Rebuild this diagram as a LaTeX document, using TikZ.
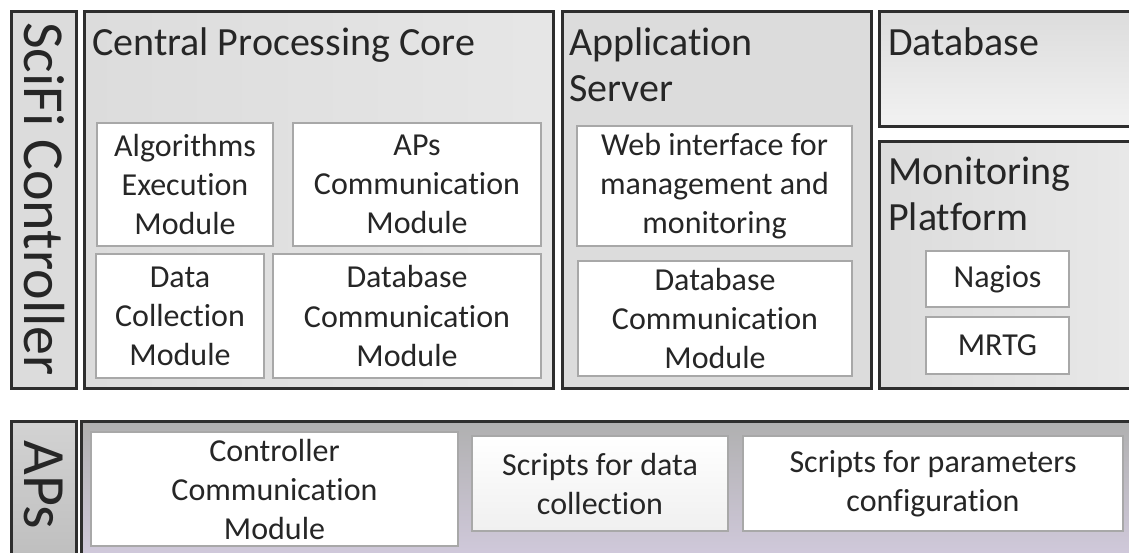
\documentclass[tikz,border=0pt]{standalone}
\usepackage{fontspec}
\setmainfont{Carlito}[Ligatures=NoCommon]
\definecolor{txt}{HTML}{262626}
\definecolor{frame}{HTML}{2E2E2E}
\definecolor{innerline}{HTML}{A8A8A8}
\definecolor{panel}{HTML}{DCDCDC}
\definecolor{panellight}{HTML}{E9E9E9}
\definecolor{lav}{HTML}{D4CCE0}
\begin{document}
\begin{tikzpicture}[x=1pt,y=-1pt,
  outerbox/.style={draw=frame, line width=2.5pt, anchor=north west, inner sep=0pt},
  innerbox/.style={draw=innerline, line width=2pt, fill=white, anchor=north west,
    align=center, text=txt, inner sep=0pt, font=\fontsize{32}{39}\selectfont},
  titletext/.style={anchor=north west, align=left, text=txt, inner sep=0pt,
    font=\fontsize{40}{46}\selectfont},
  sidetext/.style={rotate=-90, text=txt, inner sep=0pt}]
\useasboundingbox (0,0) rectangle (1129,552);
\clip (0,0) rectangle (1129,552);
\fill[white] (0,0) rectangle (1129,552);

% side labels
\node[outerbox, fill=panel, minimum width=65, minimum height=377] (scifibox) at (10,10) {};
\node[sidetext, font=\fontsize{58}{62}\selectfont] (scifi) at (44,199) {SciFi Controller};

% Central Processing Core
\node[outerbox, left color=panel, right color=panellight!80!panel, minimum width=469, minimum height=377] (cpc) at (83,10) {};
\node[titletext] (cpct) at (92,28) {Central Processing Core};
\node[innerbox, minimum width=176, minimum height=123] (alg) at (96,122) {Algorithms\\Execution\\Module};
\node[innerbox, minimum width=248, minimum height=123] (apsc) at (292,122) {APs\\Communication\\Module};
\node[innerbox, minimum width=168, minimum height=124] (dcm) at (95,253) {Data\\Collection\\Module};
\node[innerbox, minimum width=268, minimum height=124] (dbc1) at (272,253) {Database\\Communication\\Module};

% Application Server
\node[outerbox, fill=panel, minimum width=309, minimum height=377] (app) at (561,10) {};
\node[titletext] (appt) at (569,28) {Application\\Server};
\node[innerbox, minimum width=275, minimum height=120] (web) at (576,125) {Web interface for\\management and\\monitoring};
\node[innerbox, minimum width=274, minimum height=115] (dbc2) at (577,260) {Database\\Communication\\Module};

% Database
\node[outerbox, top color=panel, bottom color=panellight!60!white, minimum width=270, minimum height=115] (db) at (878,10) {};
\node[titletext] (dbt) at (888,28) {Database};

% Monitoring Platform
\node[outerbox, left color=panel, right color=panellight, minimum width=270, minimum height=247] (mon) at (878,140) {};
\node[titletext] (mont) at (888,157) {Monitoring\\Platform};
\node[innerbox, minimum width=143, minimum height=56] (nag) at (925,250) {Nagios};
\node[innerbox, minimum width=143, minimum height=57] (mrtg) at (925,316) {MRTG};

% APs
\node[outerbox, top color=gray!35, bottom color=gray!52, minimum width=65, minimum height=150] (apsbox) at (10,420) {};
\node[sidetext, font=\fontsize{60}{64}\selectfont] (aps) at (44,485) {APs};
\node[outerbox, top color=gray!62, bottom color=lav, minimum width=1070, minimum height=150] (apsc2) at (80,420) {};
\node[innerbox, minimum width=367, minimum height=114] (ccm) at (90,431) {Controller\\Communication\\Module};
\node[innerbox, top color=white, bottom color=gray!12, minimum width=256, minimum height=95] (sdc) at (471,435) {Scripts for data\\collection};
\node[innerbox, minimum width=380, minimum height=95] (spc) at (742,435) {Scripts for parameters\\configuration};
\end{tikzpicture}
\end{document}
